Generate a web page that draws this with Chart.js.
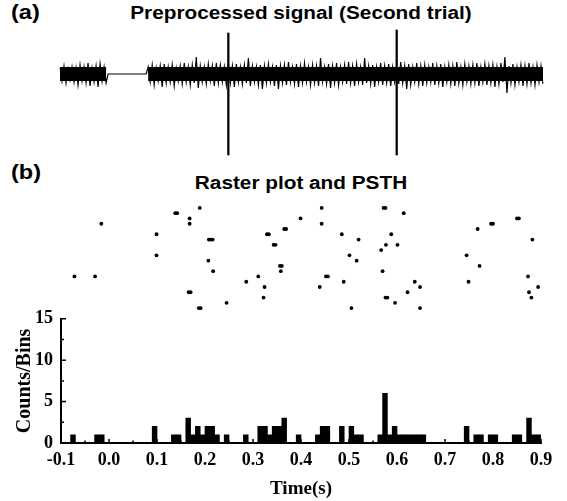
<!DOCTYPE html>
<html>
<head>
<meta charset="utf-8">
<title>Preprocessed signal, raster plot and PSTH</title>
<script src="https://cdn.jsdelivr.net/npm/chart.js@4.4.1/dist/chart.umd.min.js"></script>
<style>
  body { margin: 0; background: #fff; }
  #page { position: relative; width: 567px; height: 501px; overflow: hidden; background: #fff; }
  canvas, .txt { position: absolute; }
  .txt { font-family: "Liberation Sans", Arial, sans-serif; font-weight: bold; color: #000; line-height: 1; white-space: nowrap; }
  .panel { left: 11px; font-size: 20px; transform: scaleX(1.18); transform-origin: left center; }
  .title { left: 101px; width: 400px; text-align: center; font-size: 17.6px; transform: scaleX(1.18); transform-origin: center; }
</style>
</head>
<body>
<div id="page">
  <div class="txt panel" style="top:2px">(a)</div>
  <div class="txt title" style="top:5px">Preprocessed signal (Second trial)</div>
  <div class="txt panel" style="top:162px">(b)</div>
  <div class="txt title" style="top:175px">Raster plot and PSTH</div>
  <canvas id="signalChart" width="567" height="130" style="left:0;top:28px"></canvas>
  <canvas id="rasterChart" width="567" height="124" style="left:0;top:196px"></canvas>
  <canvas id="psthChart" width="567" height="201" style="left:0;top:300px"></canvas>
</div>
<script>
// (a) preprocessed signal: successive positive / negative peaks of the noise
// (read every ~4px along the trace), zeros = the blanked flat stretch
var signalUpper = [
    6, 8, 5, 7, 6, 9, 7, 11, 6, 8, 10, 7,
    0, 0, 0, 0, 0, 0, 0, 0, 0, 0,
    7, 9, 6, 8, 10, 7, 9, 6, 8, 11,
    7, 9, 17, 8, 7, 10, 8, 11, 9, 7,
    11, 8, 10, 7, 9, 16, 8, 7, 9, 8,
    10, 7, 9, 8, 9, 12, 7, 10, 8, 11,
    7, 9, 8, 16, 7, 10, 8, 11, 7, 9,
    12, 8, 10, 7, 16, 8, 9, 7, 11, 8,
    10, 7, 9, 12, 8, 10, 7, 11, 8, 9,
    7, 11, 8, 10, 7, 9, 8, 12, 7, 10,
    8, 9, 11, 7, 10, 8, 9, 7, 11, 17,
    8, 10, 7, 9, 8, 11, 7, 9, 8
];
var signalLower = [
    -7, -9, -6, -8, -11, -7, -9, -12, -8, -13, -7, -9,
    0, 0, 0, 0, 0, 0, 0, 0, 0, 0,
    -8, -11, -7, -13, -9, -8, -12, -7, -10, -8,
    -11, -9, -14, -8, -10, -7, -12, -9, -8, -11,
    -9, -13, -8, -10, -9, -12, -8, -11, -15, -9,
    -8, -12, -15, -9, -11, -8, -10, -13, -9, -8,
    -11, -9, -12, -8, -10, -14, -9, -11, -8, -10,
    -9, -12, -8, -11, -9, -10, -13, -8, -11, -9,
    -12, -8, -10, -9, -15, -11, -8, -10, -12, -9,
    -8, -11, -9, -13, -8, -10, -12, -9, -11, -8,
    -10, -9, -12, -8, -11, -9, -13, -10, -8, -19,
    -9, -11, -8, -12, -10, -9, -11, -8, -10
];
// the two large spikes (position in the trace, top, bottom)
var spikeIdx = [84, 168];
var spikeTop = [41, 44];
var spikeBottom = [-81, -81];

// (b) raster: spike times (s) for each of the 20 trials, top row first
var rasterTrials = [
    [0.189, 0.443, 0.572, 0.576],
    [0.138, 0.142, 0.614],
    [0.168, 0.399, 0.850, 0.854],
    [-0.016, 0.168, 0.443, 0.796, 0.800],
    [0.365, 0.369, 0.768],
    [0.099, 0.329, 0.333, 0.485, 0.588],
    [0.208, 0.212, 0.216, 0.520, 0.882],
    [0.343, 0.347, 0.577, 0.601],
    [0.567],
    [0.099, 0.501, 0.745],
    [0.207, 0.516],
    [0.356, 0.360, 0.772],
    [0.217, 0.358, 0.570],
    [-0.072, -0.029, 0.311, 0.452, 0.456, 0.873],
    [0.286, 0.489, 0.637, 0.749],
    [0.324, 0.439, 0.648, 0.894],
    [0.166, 0.170, 0.622, 0.875],
    [0.322, 0.576, 0.580, 0.880],
    [0.245, 0.596],
    [0.187, 0.191, 0.505, 0.648]
];

// PSTH, 10 ms bins (only the non-empty ones)
var psthBinCentres = [
    -0.075, -0.025, -0.015, 0.095, 0.135, 0.145, 0.165, 0.175, 0.185, 0.195,
    0.205, 0.215, 0.225, 0.245, 0.285, 0.315, 0.325, 0.335, 0.345, 0.355,
    0.365, 0.395, 0.435, 0.445, 0.455, 0.485, 0.505, 0.515, 0.525, 0.565,
    0.575, 0.585, 0.595, 0.605, 0.615, 0.625, 0.635, 0.645, 0.655, 0.745,
    0.765, 0.775, 0.795, 0.805, 0.845, 0.855, 0.875, 0.885, 0.895
];
var psthCounts = [
    1, 1, 1, 2, 1, 1, 3, 1, 2, 1,
    2, 2, 1, 1, 1, 2, 2, 1, 2, 2,
    3, 1, 1, 2, 2, 2, 2, 1, 1, 1,
    6, 1, 2, 1, 1, 1, 1, 1, 1, 2,
    1, 1, 1, 1, 1, 1, 3, 1, 1
];
var timeTicks = [-0.1, 0.9];

Chart.defaults.color = '#000';
Chart.defaults.font.family = '"Liberation Serif", "Times New Roman", serif';

var noTips = { legend: { display: false }, tooltip: { enabled: false } };

// the noise goes up and down: alternate the positive and negative peaks
var trace = [];
signalUpper.forEach(function (v, i) {
    trace.push(v, signalLower[i]);
});

// signal trace
new Chart(document.getElementById('signalChart'), {
    type: 'line',
    data: {
        labels: trace.map(function (v, i) { return i; }),
        datasets: [{
            data: trace,
            borderColor: '#000',
            borderWidth: 1.2,
            pointRadius: 0,
            fill: false
        }, {
            // dense core of the noise band (gap where the signal was blanked)
            data: trace.map(function (v) { return v === 0 ? null : 0; }),
            borderColor: '#000',
            borderWidth: 14,
            pointRadius: 0,
            fill: false
        }, {
            type: 'bar',
            data: trace.map(function (v, i) {
                var k = spikeIdx.indexOf(i);
                return k < 0 ? null : [spikeBottom[k], spikeTop[k]];
            }),
            backgroundColor: '#000',
            barThickness: 1.6
        }]
    },
    options: {
        responsive: false,
        animation: false,
        layout: { padding: { left: 60, right: 24, top: 0, bottom: 0 } },
        plugins: noTips,
        scales: {
            x: { display: false, offset: false },
            y: { display: false, min: -84, max: 46 }
        }
    }
});

// raster plot
new Chart(document.getElementById('rasterChart'), {
    type: 'scatter',
    data: {
        datasets: [{
            data: rasterTrials.flatMap(function (times, row) {
                return times.map(function (t) { return { x: t, y: row }; });
            }),
            pointRadius: 1.9,
            pointBorderWidth: 0,
            pointBackgroundColor: '#000'
        }]
    },
    options: {
        responsive: false,
        animation: false,
        layout: { padding: { left: 61, right: 26, top: 0, bottom: 0 } },
        plugins: noTips,
        scales: {
            x: { type: 'linear', display: false, min: timeTicks[0], max: timeTicks[1] },
            y: { display: false, min: -1.5, max: 20.5, reverse: true }
        }
    }
});

// inward tick marks like the original plot (major + one minor in between)
var inwardTicks = {
    id: 'inwardTicks',
    afterDraw: function (chart) {
        var ctx = chart.ctx, area = chart.chartArea;
        var xs = chart.scales.x, ys = chart.scales.y;
        ctx.save();
        ctx.strokeStyle = '#000';
        ctx.lineWidth = 1.5;
        ctx.beginPath();
        xs.ticks.forEach(function (t, i) {
            var px = xs.getPixelForValue(t.value);
            ctx.moveTo(px, area.bottom);
            ctx.lineTo(px, area.bottom - 4);
            if (i > 0) {
                var mx = xs.getPixelForValue((t.value + xs.ticks[i - 1].value) / 2);
                ctx.moveTo(mx, area.bottom);
                ctx.lineTo(mx, area.bottom - 2.5);
            }
        });
        ys.ticks.forEach(function (t, i) {
            var py = ys.getPixelForValue(t.value);
            ctx.moveTo(area.left, py);
            ctx.lineTo(area.left + 5, py);
            if (i > 0) {
                var my = ys.getPixelForValue((t.value + ys.ticks[i - 1].value) / 2);
                ctx.moveTo(area.left, my);
                ctx.lineTo(area.left + 3, my);
            }
        });
        ctx.stroke();
        ctx.restore();
    }
};

// PSTH
new Chart(document.getElementById('psthChart'), {
    type: 'bar',
    data: {
        datasets: [{
            data: psthBinCentres.map(function (c, i) { return { x: c, y: psthCounts[i] }; }),
            backgroundColor: '#000',
            borderWidth: 0,
            barPercentage: 1,
            categoryPercentage: 1
        }]
    },
    options: {
        responsive: false,
        animation: false,
        layout: { padding: { left: 0, right: 26, top: 17, bottom: 0 } },
        plugins: noTips,
        scales: {
            x: {
                type: 'linear',
                offset: false,
                min: timeTicks[0],
                max: timeTicks[1],
                grid: { display: false, drawTicks: false },
                border: { display: true, color: '#000', width: 2 },
                ticks: {
                    stepSize: 0.1,
                    padding: 7,
                    font: { size: 18, weight: 'bold' },
                    callback: function (v) { return Number(v).toFixed(1); }
                },
                title: {
                    display: true,
                    text: 'Time(s)',
                    font: { size: 19, weight: 'bold' },
                    padding: { top: 0, bottom: 1 }
                },
                afterFit: function (s) { s.height = 58; }
            },
            y: {
                min: 0,
                max: 15,
                grid: { display: false, drawTicks: false },
                border: { display: true, color: '#000', width: 2 },
                ticks: {
                    stepSize: 5,
                    padding: 8,
                    font: { size: 18, weight: 'bold' }
                },
                title: {
                    display: true,
                    text: 'Counts/Bins',
                    font: { size: 20, weight: 'bold' },
                    padding: { top: 13, bottom: 0 }
                },
                afterFit: function (s) { s.width = 61; }
            }
        }
    },
    plugins: [inwardTicks]
});
</script>
</body>
</html>
